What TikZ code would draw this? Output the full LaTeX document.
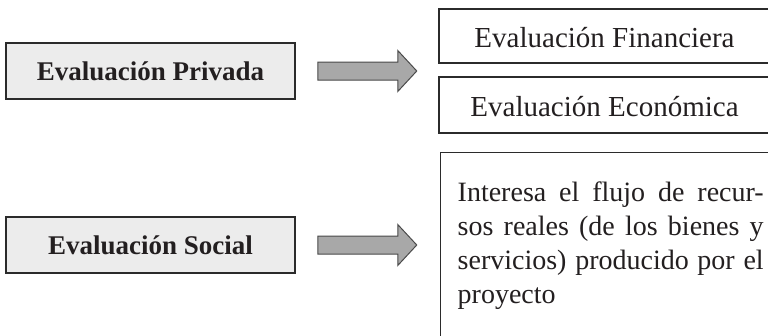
\documentclass[tikz,border=0pt]{standalone}
\usepackage{fontspec}
\setmainfont{Liberation Serif}
\definecolor{boxfill}{HTML}{ECECEC}
\definecolor{boxline}{HTML}{2B2B2B}
\definecolor{arrfill}{HTML}{A8A8A8}
\definecolor{arrline}{HTML}{4A4A4A}
\definecolor{txt}{HTML}{231F20}
\begin{document}
\begin{tikzpicture}[x=1pt,y=-1pt,
  leftbox/.style={draw=boxline, fill=boxfill, line width=1.5pt, minimum width=289pt, minimum height=56pt,
    inner sep=0pt, text height=18pt, text depth=0pt, text=txt, font=\fontsize{27}{32}\selectfont\bfseries},
  rightbox/.style={draw=boxline, line width=1.2pt, minimum width=331pt, inner sep=0pt,
    text height=22pt, text depth=0pt, text=txt, font=\fontsize{29}{34}\selectfont},
  bigarrow/.style={draw=arrline, fill=arrfill, line width=1pt, line join=miter}
]
\useasboundingbox (0,0) rectangle (768,335);
\clip (0,0) rectangle (768,335);
\fill[white] (0,0) rectangle (768,335);

\node[leftbox] (lp) at (150.5,71) {Evaluación Privada};
\node[leftbox] (ls) at (150.5,245) {Evaluación Social};

\node[rightbox, minimum height=54pt] (rf) at (604.5,36) {Evaluación Financiera};
\node[rightbox, minimum height=56pt] (re) at (604.5,105) {Evaluación Económica};
\node[draw=boxline, line width=1.2pt, minimum width=331pt, minimum height=200pt, inner sep=0pt,
  anchor=north west] (rs) at (439.6,152) {};
\node[text width=306pt, align=justify, inner sep=0pt, anchor=north west, text=txt,
  font=\fontsize{28}{34}\selectfont] (rst) at (457.5,182)
  {Interesa el flujo de recur-\linebreak sos reales (de los bienes y\linebreak servicios) producido por el\linebreak proyecto};

\draw[bigarrow] ([xshift=22pt,yshift=9pt]lp.east) -- ++(80,0) -- ++(0,-11.5) -- ++(19,20.5)
  -- ++(-19,20.5) -- ++(0,-11.5) -- ++(-80,0) -- cycle;
\draw[bigarrow] ([xshift=22pt,yshift=9pt]ls.east) -- ++(80,0) -- ++(0,-11.5) -- ++(19,20.5)
  -- ++(-19,20.5) -- ++(0,-11.5) -- ++(-80,0) -- cycle;
\end{tikzpicture}
\end{document}
